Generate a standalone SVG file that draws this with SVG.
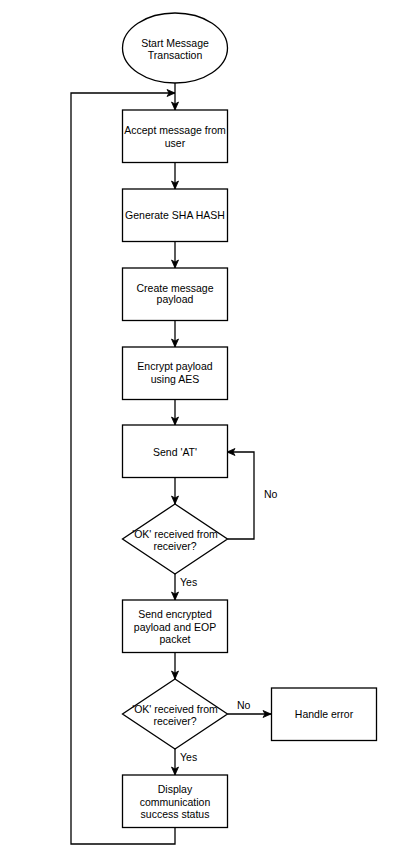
<svg xmlns="http://www.w3.org/2000/svg" width="417" height="857" viewBox="0 0 417 857">
  <style>
    .shape { fill: #ffffff; stroke: #000000; stroke-width: 1.3; }
    .edge { fill: none; stroke: #000000; stroke-width: 1.3; }
    .label { font-family: "Liberation Sans", Arial, sans-serif; font-size: 10.5px; fill: #000000; text-anchor: middle; }
    .elabel { font-family: "Liberation Sans", Arial, sans-serif; font-size: 10.5px; fill: #000000; }
  </style>
  <defs>
    <marker id="arrow" markerUnits="userSpaceOnUse" markerWidth="10" markerHeight="10" viewBox="0 0 10 10" refX="9" refY="5" orient="auto">
      <path d="M1,1.5 L9,5 L1,8.5 L3,5 Z" fill="#000000" stroke="#000000" stroke-width="0.8"/>
    </marker>
  </defs>
  <rect width="417" height="857" fill="#ffffff"/>

  <!-- connectors -->
  <g id="connectors">
    <path class="edge" d="M175,83 L175,110" marker-end="url(#arrow)"/>
    <path class="edge" d="M175,162 L175,189" marker-end="url(#arrow)"/>
    <path class="edge" d="M175,241 L175,268" marker-end="url(#arrow)"/>
    <path class="edge" d="M175,320 L175,347" marker-end="url(#arrow)"/>
    <path class="edge" d="M175,399 L175,425" marker-end="url(#arrow)"/>
    <path class="edge" d="M175,478 L175,504" marker-end="url(#arrow)"/>
    <path class="edge" d="M227.5,539 L254,539 L254,452 L227,452" marker-end="url(#arrow)"/>
    <path class="edge" d="M175,574 L175,600" marker-end="url(#arrow)"/>
    <path class="edge" d="M175,653 L175,679" marker-end="url(#arrow)"/>
    <path class="edge" d="M227.5,714 L271,714" marker-end="url(#arrow)"/>
    <path class="edge" d="M175,749 L175,775" marker-end="url(#arrow)"/>
    <path class="edge" d="M175,828 L175,844 L71,844 L71,93 L175,93" marker-end="url(#arrow)"/>
    <text class="elabel" x="264" y="498">No</text>
    <text class="elabel" x="180" y="586">Yes</text>
    <text class="elabel" x="237" y="709">No</text>
    <text class="elabel" x="180" y="761">Yes</text>
  </g>

  <g id="start">
    <ellipse class="shape" cx="175" cy="48" rx="52.5" ry="35"/>
    <text class="label" x="175" y="47">Start Message</text>
    <text class="label" x="175" y="59">Transaction</text>
  </g>

  <g id="accept">
    <rect class="shape" x="122.5" y="110" width="105" height="52.5"/>
    <text class="label" x="175" y="134">Accept message from</text>
    <text class="label" x="175" y="146.5">user</text>
  </g>

  <g id="hash">
    <rect class="shape" x="122.5" y="189" width="105" height="52.5"/>
    <text class="label" x="175" y="219">Generate SHA HASH</text>
  </g>

  <g id="payload">
    <rect class="shape" x="122.5" y="268" width="105" height="52.5"/>
    <text class="label" x="175" y="292">Create message</text>
    <text class="label" x="175" y="303">payload</text>
  </g>

  <g id="encrypt">
    <rect class="shape" x="122.5" y="347" width="105" height="52.5"/>
    <text class="label" x="175" y="370">Encrypt payload</text>
    <text class="label" x="175" y="383">using AES</text>
  </g>

  <g id="send-at">
    <rect class="shape" x="122.5" y="425" width="105" height="52.5"/>
    <text class="label" x="175" y="455.5">Send 'AT'</text>
  </g>

  <g id="check-at">
    <polygon class="shape" points="175,504 227.5,539 175,574 122.5,539"/>
    <text class="label" x="175" y="538">'OK' received from</text>
    <text class="label" x="175" y="549.5">receiver?</text>
  </g>

  <g id="send-payload">
    <rect class="shape" x="122.5" y="600" width="105" height="52.5"/>
    <text class="label" x="175" y="618">Send encrypted</text>
    <text class="label" x="175" y="630.5">payload and EOP</text>
    <text class="label" x="175" y="643">packet</text>
  </g>

  <g id="check-payload">
    <polygon class="shape" points="175,679 227.5,714 175,749 122.5,714"/>
    <text class="label" x="175" y="713">'OK' received from</text>
    <text class="label" x="175" y="724.5">receiver?</text>
  </g>

  <g id="handle-error">
    <rect class="shape" x="271.5" y="688" width="105" height="52.5"/>
    <text class="label" x="324" y="718">Handle error</text>
  </g>

  <g id="success">
    <rect class="shape" x="122.5" y="775" width="105" height="52.5"/>
    <text class="label" x="175" y="793">Display</text>
    <text class="label" x="175" y="805.5">communication</text>
    <text class="label" x="175" y="818">success status</text>
  </g>
</svg>
